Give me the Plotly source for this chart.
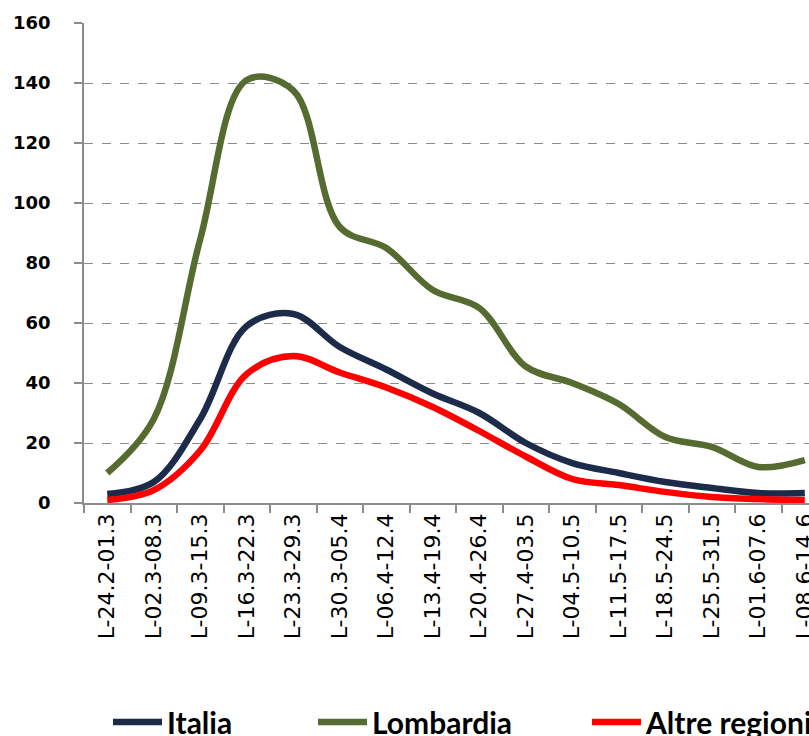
import plotly.graph_objects as go

categories = ["L-24.2-01.3", "L-02.3-08.3", "L-09.3-15.3", "L-16.3-22.3", "L-23.3-29.3",
              "L-30.3-05.4", "L-06.4-12.4", "L-13.4-19.4", "L-20.4-26.4", "L-27.4-03.5",
              "L-04.5-10.5", "L-11.5-17.5", "L-18.5-24.5", "L-25.5-31.5", "L-01.6-07.6",
              "L-08.6-14.6"]
italia = [3, 7, 28, 59, 63, 52, 44.5, 36.5, 30, 20, 13.3, 10, 7, 5, 3.3, 3.3]
lombardia = [10, 28, 88, 141, 137.5, 92, 85, 71, 65, 45.5, 40, 33, 22, 18.7, 12, 14.3]
altre = [1, 4.3, 17.5, 43, 49, 43.5, 38.5, 32, 24, 15.5, 8, 6, 3.7, 2, 1.3, 1]
yticks = [0, 20, 40, 60, 80, 100, 120, 140, 160]

W, H = 809, 736
series = [("Italia", italia, "#1C2B49", "legend", 113),
          ("Lombardia", lombardia, "#556B2F", "legend2", 318),
          ("Altre regioni", altre, "#FF0000", "legend3", 592)]

fig = go.Figure()
for name, vals, col, leg, _ in series:
    fig.add_trace(go.Scatter(x=categories, y=vals, name=name, mode="lines",
                             line=dict(color=col, width=6.5, shape="spline", smoothing=1.0),
                             legend=leg))

legfont = dict(family="Lato, Noto Sans, sans-serif", size=30, color="#000000", weight="bold")
leg_layout = {}
for name, vals, col, leg, px in series:
    leg_layout[leg] = dict(x=(px - 5) / W, xref="container", xanchor="left",
                           y=1 - 722 / H, yref="container", yanchor="middle",
                           orientation="h", font=legfont, itemwidth=49,
                           bgcolor="rgba(0,0,0,0)", borderwidth=0)

fig.update_layout(
    width=W, height=H,
    margin=dict(l=84, r=0, t=23, b=H - 503, autoexpand=False),
    paper_bgcolor="white", plot_bgcolor="white",
    showlegend=True,
    **leg_layout,
    xaxis=dict(type="category", range=[-0.5, 15.09], showline=True, linecolor="#8C8C8C",
               linewidth=1.5, ticks="outside", tickson="boundaries", ticklen=8,
               tickcolor="#8C8C8C", tickwidth=1.5, showgrid=False, tickangle=-90,
               tickfont=dict(family="DejaVu Sans, Verdana, sans-serif", size=22, color="#000"),
               automargin=False),
    yaxis=dict(range=[0, 160], tickvals=yticks, ticktext=[str(v) for v in yticks],
               showline=True, linecolor="#8C8C8C", linewidth=1.5, ticks="outside",
               ticklen=8, tickcolor="#8C8C8C", tickwidth=1.5, showgrid=True,
               gridcolor="#8C8C8C", gridwidth=1, griddash="dash", zeroline=False,
               ticklabelstandoff=20,
               tickfont=dict(family="DejaVu Sans, Verdana, sans-serif", size=18,
                             color="#000", weight="bold"),
               automargin=False),
)

fig.write_html("out.html", config={"displayModeBar": False},
               post_script="document.body.style.margin='0';document.body.style.overflow='hidden';")
